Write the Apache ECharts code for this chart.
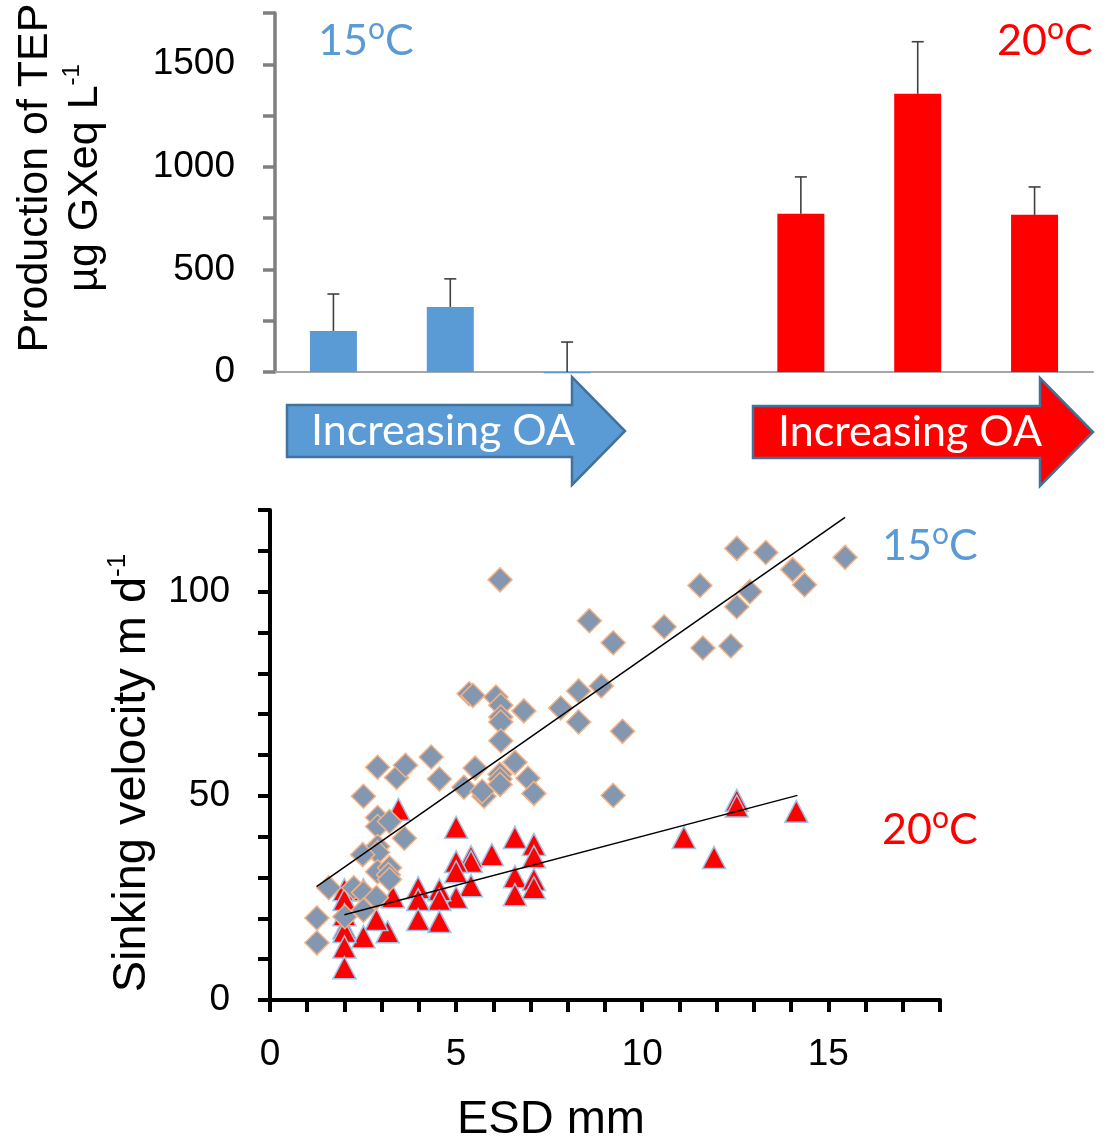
<!DOCTYPE html>
<html>
<head>
<meta charset="utf-8">
<script src="https://cdn.jsdelivr.net/npm/echarts@6.0.0/dist/echarts.min.js"></script>
<style>
  html, body { margin: 0; padding: 0; background: #fff; }
  #main { width: 1109px; height: 1141px; }
</style>
</head>
<body>
<div id="main"></div>
<script>
// top panel: TEP production, 3 OA levels at 15 and 20 C (slot 3 is the gap)
const treatments = ['15-1', '15-2', '15-3', '', '20-1', '20-2', '20-3'];
const tepMean = [200, 317, -6, null, 771, 1356, 766];
const tepErr = [180, 137, 152, null, 180, 254, 136];
const tepTemp = [15, 15, 15, null, 20, 20, 20];

// bottom panel: sinking velocity vs ESD
const agg15 = [
  [15.45, 108.4], [13.32, 109.6], [12.54, 110.6], [14.04, 105.4], [14.36, 101.7],
  [11.55, 101.5], [12.89, 100.0], [12.54, 96.3], [10.59, 91.4], [9.22, 87.5],
  [11.63, 86.2], [12.38, 86.7], [8.90, 76.9], [9.47, 65.8], [9.22, 50.1],
  [6.18, 102.9], [8.58, 92.9], [5.35, 75.0], [5.45, 74.6], [6.07, 74.2],
  [6.20, 72.2], [6.82, 70.8], [6.20, 69.3], [6.20, 68.1], [8.29, 75.7],
  [7.81, 71.5], [8.29, 68.1], [6.20, 63.5], [4.33, 59.5], [4.55, 54.1],
  [5.51, 56.8], [6.58, 58.2], [6.93, 54.3], [7.09, 50.6], [6.18, 55.3],
  [6.18, 54.1], [6.18, 52.8], [5.21, 52.1], [5.75, 49.9], [5.70, 51.1],
  [2.89, 57.0], [3.40, 54.5], [3.64, 57.5], [2.51, 49.9], [2.89, 44.7],
  [2.89, 42.5], [3.21, 43.7], [3.61, 39.6], [2.89, 37.6], [2.89, 36.1],
  [2.49, 35.6], [2.89, 31.4], [3.21, 32.4], [3.18, 30.7], [1.58, 27.5],
  [1.26, 20.1], [1.26, 14.0], [2.25, 27.5], [2.51, 26.3], [2.86, 25.1],
  [2.01, 20.4], [2.51, 22.0], [3.21, 29.5]
];
const agg20 = [
  [3.45, 46.7], [5.0, 42.3], [6.58, 39.8], [7.09, 38.1], [7.09, 35.1],
  [5.96, 35.6], [5.40, 35.1], [5.40, 33.9], [5.0, 33.9], [5.0, 31.4],
  [6.58, 30.2], [7.09, 29.5], [7.09, 27.5], [6.58, 25.8], [5.40, 28.0],
  [5.0, 25.1], [4.55, 27.0], [4.55, 24.6], [4.55, 19.2], [3.98, 27.5],
  [3.98, 24.6], [3.98, 19.7], [3.16, 16.7], [2.86, 19.7], [2.51, 15.5],
  [2.0, 27.0], [2.0, 24.6], [2.0, 20.9], [2.0, 17.7], [2.0, 16.8],
  [2.0, 13.0], [2.0, 7.9], [2.51, 27.0], [3.3, 25.3], [11.12, 39.8],
  [11.93, 34.9], [12.54, 48.9], [12.54, 47.5], [14.14, 46.2]
];

// linear fits: [slope, intercept], x range
const fit15 = [6.37, 19.8];
const fit15X = [1.25, 15.45];
const fit20 = [2.40, 16.1];
const fit20X = [2.0, 14.17];

const BLUE = '#5B9BD5';
const RED = '#FF0000';
const ARIAL = 'Liberation Sans, Arial, sans-serif';
const CAL = 'Lato, Liberation Sans, sans-serif';

const chart = echarts.init(document.getElementById('main'));
const measureCtx = document.createElement('canvas').getContext('2d');

function textWidth(str, font) {
  measureCtx.font = font;
  return measureCtx.measureText(str).width;
}

function fitLine(fit, xs) {
  return xs.map(x => [x, fit[0] * x + fit[1]]);
}

// "15oC" with a raised o, built from three text pieces
function tempLabel(txt, x, y, color) {
  const big = '43px ' + CAL;
  const small = '30px ' + CAL;
  const w1 = textWidth(txt, big);
  const w2 = textWidth('o', small);
  const base = { fill: color, verticalAlign: 'middle', align: 'left' };
  return [
    { type: 'text', x: x, y: y, z: 100, style: Object.assign({ text: txt, font: big }, base) },
    { type: 'text', x: x + w1, y: y - 12, z: 100, style: Object.assign({ text: 'o', font: small }, base) },
    { type: 'text', x: x + w1 + w2, y: y, z: 100, style: Object.assign({ text: 'C', font: big }, base) }
  ];
}

function arrow(x0, xh, x1, yc, color, cx) {
  return [
    {
      type: 'polygon', z: 50,
      shape: { points: [[x0, yc - 26], [xh, yc - 26], [xh, yc - 54], [x1, yc], [xh, yc + 54], [xh, yc + 26], [x0, yc + 26]] },
      style: { fill: color, stroke: '#41719C', lineWidth: 2.5 }
    },
    {
      type: 'text', x: cx, y: yc, z: 51,
      style: { text: 'Increasing OA', font: '43px ' + CAL, fill: '#fff', align: 'center', verticalAlign: 'middle' }
    }
  ];
}

const option = {
  backgroundColor: '#fff',
  animation: false,
  grid: [
    { left: 275, right: 16, top: 13, bottom: 769 },
    { left: 270, right: 169, top: 510, bottom: 141 }
  ],
  xAxis: [
    {
      type: 'category', gridIndex: 0, data: treatments,
      axisLine: { lineStyle: { color: '#A6A6A6', width: 2 } },
      axisTick: { length: 15, lineStyle: { color: '#A6A6A6', width: 1.5 } },
      axisLabel: { show: false }
    },
    {
      type: 'value', gridIndex: 1, min: 0, max: 18, interval: 1,
      axisLine: { lineStyle: { color: '#000', width: 4 } },
      axisTick: { length: 12, lineStyle: { color: '#000', width: 4 } },
      splitLine: { show: false },
      axisLabel: {
        fontSize: 37, fontFamily: ARIAL, color: '#000', margin: 36,
        formatter: v => (v % 5 === 0 ? String(v) : '')
      }
    }
  ],
  yAxis: [
    {
      type: 'value', gridIndex: 0, min: 0, max: 1750, interval: 250,
      axisLine: { show: true, lineStyle: { color: '#7F7F7F', width: 3.5 } },
      axisTick: { show: true, length: 12, lineStyle: { color: '#7F7F7F', width: 3.5 } },
      splitLine: { show: false },
      axisLabel: {
        fontSize: 37, fontFamily: ARIAL, color: '#000', margin: 40,
        formatter: v => (v % 500 === 0 ? String(v) : '')
      }
    },
    {
      type: 'value', gridIndex: 1, min: 0, max: 120, interval: 10,
      axisLine: { show: true, lineStyle: { color: '#000', width: 4 } },
      axisTick: { show: true, length: 12, lineStyle: { color: '#000', width: 4 } },
      splitLine: { show: false },
      axisLabel: {
        fontSize: 37, fontFamily: ARIAL, color: '#000', margin: 40,
        formatter: v => (v % 50 === 0 ? String(v) : '')
      }
    }
  ],
  series: [
    {
      type: 'bar', xAxisIndex: 0, yAxisIndex: 0, barWidth: 47, clip: false,
      data: tepMean.map((v, i) => ({
        value: v,
        itemStyle: { color: tepTemp[i] === 20 ? RED : BLUE }
      }))
    },
    {
      type: 'custom', xAxisIndex: 0, yAxisIndex: 0, z: 5,
      data: tepMean.map((v, i) => (v === null ? [i, '-', '-'] : [i, v, tepErr[i]])),
      renderItem: function (params, api) {
        const base = api.coord([api.value(0), Math.max(api.value(1), 0)]);
        const top = api.coord([api.value(0), api.value(1) + api.value(2)]);
        const style = { stroke: '#404040', lineWidth: 1.6 };
        return {
          type: 'group',
          children: [
            { type: 'line', shape: { x1: base[0], y1: base[1], x2: top[0], y2: top[1] }, style: style },
            { type: 'line', shape: { x1: top[0] - 6, y1: top[1], x2: top[0] + 6, y2: top[1] }, style: style }
          ]
        };
      }
    },
    {
      type: 'scatter', xAxisIndex: 1, yAxisIndex: 1, symbol: 'triangle', symbolSize: [23, 22],
      itemStyle: { color: RED, borderColor: '#9DC3E6', borderWidth: 1.5, opacity: 1 },
      data: agg20, z: 2
    },
    {
      type: 'scatter', xAxisIndex: 1, yAxisIndex: 1, symbol: 'diamond', symbolSize: 24,
      itemStyle: { color: '#8497B0', borderColor: '#F4B183', borderWidth: 1.5, opacity: 1 },
      data: agg15, z: 3
    },
    {
      type: 'line', xAxisIndex: 1, yAxisIndex: 1, symbol: 'none', z: 4,
      lineStyle: { color: '#000', width: 1.5 },
      data: fitLine(fit15, fit15X)
    },
    {
      type: 'line', xAxisIndex: 1, yAxisIndex: 1, symbol: 'none', z: 4,
      lineStyle: { color: '#000', width: 1.5 },
      data: fitLine(fit20, fit20X)
    }
  ],
  graphic: [
    {
      type: 'text', x: 60, y: 178, rotation: Math.PI / 2, z: 100,
      style: {
        text: 'Production of TEP\nµg GXeq L{s|-1}',
        font: '43px ' + ARIAL, fill: '#000', align: 'center', verticalAlign: 'middle', lineHeight: 50,
        rich: { s: { fontSize: 24, fontFamily: ARIAL, fill: '#000', verticalAlign: 'top', lineHeight: 50 } }
      }
    },
    {
      type: 'text', x: 132, y: 773, rotation: Math.PI / 2, z: 100,
      style: {
        text: 'Sinking velocity m d{s|-1}',
        font: '47px ' + ARIAL, fill: '#000', align: 'center', verticalAlign: 'middle', lineHeight: 54,
        rich: { s: { fontSize: 26, fontFamily: ARIAL, fill: '#000', verticalAlign: 'top', lineHeight: 54 } }
      }
    },
    {
      type: 'text', x: 551, y: 1120, z: 100,
      style: { text: 'ESD mm', font: '47px ' + ARIAL, fill: '#000', align: 'center', verticalAlign: 'middle' }
    },
    ...tempLabel('15', 318, 41, BLUE),
    ...tempLabel('20', 997, 41, RED),
    ...tempLabel('15', 882, 546, BLUE),
    ...tempLabel('20', 882, 830, RED),
    ...arrow(287, 572, 625, 431, BLUE, 443),
    ...arrow(753, 1040, 1093, 432, RED, 910)
  ]
};

option && chart.setOption(option);
</script>
</body>
</html>
